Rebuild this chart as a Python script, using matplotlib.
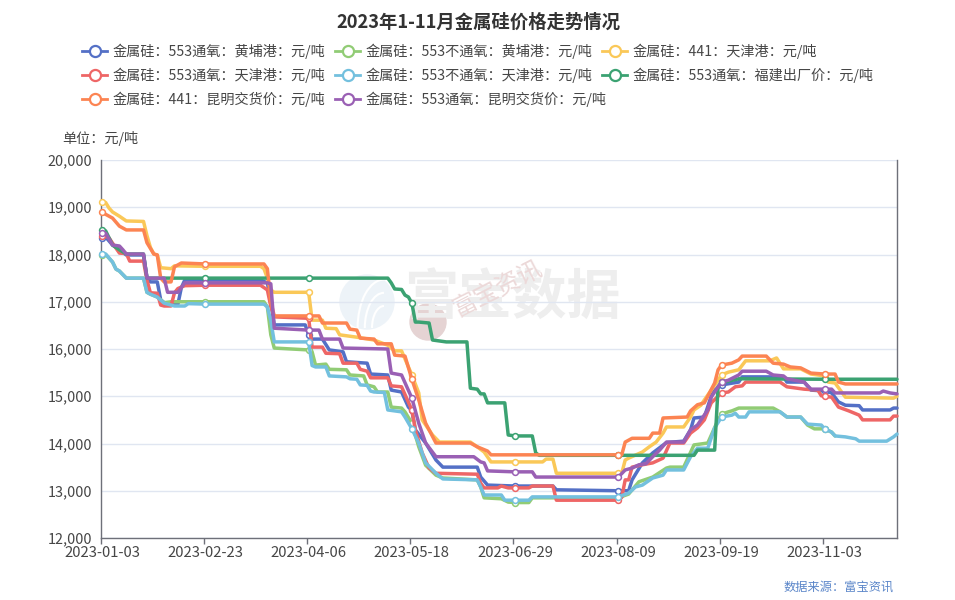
import matplotlib
matplotlib.use('Agg')
import matplotlib.pyplot as plt
from matplotlib.lines import Line2D
from matplotlib.patches import Circle, Arc
from matplotlib.transforms import Affine2D

plt.rcParams['font.family'] = ['Noto Sans CJK SC', 'DejaVu Sans']

# x values are trading day numbers counted from 2023-01-03, prices in yuan/ton
tick_dates = ['2023-01-03', '2023-02-23', '2023-04-06', '2023-05-18',
              '2023-06-29', '2023-08-09', '2023-09-19', '2023-11-03']
tick_days = [0, 30, 60, 90, 120, 150, 180, 210]
y_ticks = [12000, 13000, 14000, 15000, 16000, 17000, 18000, 19000, 20000]

names = ['金属硅：553通氧：黄埔港：元/吨', '金属硅：553不通氧：黄埔港：元/吨', '金属硅：441：天津港：元/吨',
         '金属硅：553通氧：天津港：元/吨', '金属硅：553不通氧：天津港：元/吨', '金属硅：553通氧：福建出厂价：元/吨',
         '金属硅：441：昆明交货价：元/吨', '金属硅：553通氧：昆明交货价：元/吨']
colors = ['#5470c6', '#91cc75', '#fac858', '#ee6666', '#73c0de', '#3ba272', '#fc8452', '#9a60b4']

days_blue = [0, 1, 3, 5, 7, 12, 13, 14, 16, 17, 18, 19, 22, 23, 24, 30, 46, 48, 49, 50, 59, 60, 61, 64, 66, 70, 71, 77, 78, 83, 84, 87, 89, 90, 91, 94, 97, 99, 109, 110, 112, 120, 131, 132, 150, 153, 154, 157, 160, 164, 169, 171, 172, 175, 177, 178, 180, 185, 186, 198, 199, 204, 206, 210, 212, 214, 216, 220, 221, 229, 230, 231]
price_blue = [18350, 18370, 18200, 18100, 17990, 17990, 17520, 17420, 17420, 17040, 16980, 16970, 16950, 17300, 17460, 17460, 17460, 17400, 17000, 16510, 16510, 16300, 16210, 16210, 15980, 15940, 15730, 15700, 15470, 15450, 15130, 15090, 14770, 14700, 14290, 14010, 13650, 13500, 13500, 13290, 13120, 13100, 13100, 13020, 13000, 13000, 13230, 13590, 13800, 14020, 14050, 14290, 14540, 14560, 15000, 15130, 15240, 15300, 15410, 15410, 15300, 15300, 15130, 15110, 15070, 14880, 14810, 14800, 14710, 14710, 14750, 14750]

days_lgreen = [0, 1, 3, 4, 5, 7, 12, 13, 14, 16, 18, 20, 30, 47, 48, 49, 50, 60, 61, 62, 65, 66, 71, 72, 76, 77, 79, 80, 83, 84, 87, 88, 90, 92, 94, 97, 99, 109, 110, 111, 116, 118, 120, 124, 125, 150, 153, 156, 160, 164, 165, 169, 172, 176, 179, 180, 182, 183, 185, 195, 197, 199, 203, 205, 207, 210, 212, 213]
price_lgreen = [18000, 18000, 17840, 17690, 17650, 17500, 17500, 17200, 17160, 17100, 16980, 17000, 17000, 17000, 16890, 16300, 16020, 15980, 15940, 15660, 15680, 15570, 15560, 15450, 15430, 15240, 15200, 15090, 15090, 14770, 14750, 14670, 14430, 13930, 13540, 13330, 13270, 13230, 13080, 12850, 12830, 12760, 12750, 12750, 12850, 12850, 12930, 13190, 13290, 13480, 13500, 13500, 13970, 14010, 14500, 14620, 14670, 14690, 14750, 14750, 14670, 14560, 14560, 14390, 14310, 14310, 14240, 14160]

days_yellow = [0, 1, 2, 3, 5, 7, 12, 13, 14, 15, 16, 17, 20, 21, 30, 46, 47, 48, 49, 50, 60, 61, 64, 65, 68, 69, 74, 79, 83, 85, 87, 90, 92, 93, 96, 98, 107, 109, 111, 113, 120, 128, 129, 131, 132, 150, 151, 152, 153, 157, 159, 161, 163, 164, 169, 171, 172, 174, 175, 177, 180, 182, 185, 187, 194, 196, 198, 203, 206, 210, 211, 213, 216, 230, 231]
price_yellow = [19110, 19100, 18980, 18900, 18810, 18710, 18700, 18400, 18150, 18010, 17990, 17720, 17700, 17760, 17750, 17750, 17700, 17500, 17250, 17200, 17200, 16610, 16610, 16440, 16430, 16300, 16250, 16190, 16080, 15960, 15960, 15450, 15070, 14500, 14180, 14030, 14030, 13930, 13820, 13610, 13610, 13610, 13670, 13670, 13370, 13370, 13370, 13650, 13690, 13820, 13930, 14030, 14220, 14350, 14350, 14560, 14710, 14810, 14920, 15130, 15450, 15510, 15560, 15750, 15750, 15810, 15580, 15580, 15470, 15430, 15300, 15280, 14980, 14960, 15000]

days_red = [0, 1, 2, 3, 5, 7, 8, 12, 13, 14, 16, 17, 18, 20, 21, 22, 24, 30, 46, 48, 49, 50, 60, 61, 64, 65, 69, 70, 74, 75, 77, 78, 83, 84, 87, 90, 91, 93, 95, 97, 109, 110, 111, 115, 116, 118, 120, 124, 125, 131, 132, 150, 151, 152, 153, 154, 157, 160, 163, 165, 169, 171, 173, 175, 177, 180, 182, 184, 186, 187, 197, 199, 204, 208, 209, 210, 212, 214, 217, 220, 221, 229, 230, 231]
price_red = [18390, 18390, 18350, 18240, 18030, 18020, 17860, 17860, 17460, 17190, 17180, 16930, 16910, 16910, 17190, 17280, 17340, 17350, 17350, 17250, 16900, 16680, 16650, 16040, 16040, 15910, 15900, 15700, 15700, 15570, 15530, 15390, 15390, 15220, 15200, 14710, 14290, 13800, 13480, 13370, 13350, 13160, 13060, 13060, 13100, 13060, 13060, 13060, 13100, 13100, 12800, 12800, 12860, 13230, 13230, 13500, 13550, 13590, 13690, 14010, 14010, 14220, 14330, 14500, 14860, 15070, 15090, 15200, 15220, 15300, 15300, 15200, 15150, 15130, 15010, 15000, 14980, 14770, 14690, 14600, 14500, 14500, 14580, 14580]

days_lblue = [0, 1, 3, 4, 5, 7, 12, 13, 14, 16, 18, 21, 24, 25, 30, 47, 48, 49, 50, 60, 61, 62, 65, 66, 71, 72, 74, 75, 77, 78, 79, 82, 83, 87, 88, 90, 92, 94, 97, 99, 109, 110, 111, 116, 117, 120, 124, 125, 150, 153, 155, 157, 160, 163, 164, 169, 171, 173, 176, 178, 180, 183, 184, 185, 187, 188, 197, 199, 203, 205, 209, 210, 212, 213, 216, 219, 220, 228, 230, 231]
price_lblue = [18010, 18010, 17840, 17690, 17650, 17500, 17500, 17200, 17160, 17100, 16970, 16910, 16910, 16960, 16950, 16950, 16890, 16600, 16150, 16150, 15650, 15620, 15620, 15430, 15410, 15370, 15360, 15240, 15230, 15110, 15090, 15080, 14710, 14670, 14560, 14310, 14010, 13590, 13370, 13250, 13230, 13080, 12910, 12910, 12800, 12800, 12800, 12870, 12870, 12950, 13080, 13120, 13270, 13330, 13440, 13440, 13720, 13900, 13900, 14330, 14560, 14600, 14640, 14560, 14560, 14670, 14670, 14560, 14560, 14410, 14390, 14310, 14240, 14160, 14140, 14100, 14050, 14050, 14140, 14200]

days_dgreen = [0, 1, 3, 5, 7, 12, 13, 30, 60, 83, 84, 85, 87, 88, 89, 90, 91, 92, 95, 96, 100, 106, 107, 109, 110, 111, 112, 117, 118, 120, 125, 126, 127, 150, 172, 173, 178, 179, 180, 182, 185, 210, 231]
price_dgreen = [18520, 18500, 18200, 18100, 18010, 18010, 17500, 17500, 17500, 17500, 17400, 17270, 17260, 17140, 17100, 16970, 16570, 16570, 16550, 16190, 16150, 16150, 15170, 15150, 15050, 15050, 14860, 14860, 14180, 14160, 14160, 13800, 13750, 13750, 13750, 13860, 13860, 15200, 15300, 15320, 15370, 15360, 15360]

days_orange = [0, 1, 2, 3, 5, 6, 7, 12, 13, 15, 16, 17, 18, 20, 21, 22, 23, 30, 47, 48, 49, 50, 60, 63, 64, 71, 72, 74, 75, 79, 80, 84, 85, 88, 90, 92, 94, 97, 107, 109, 112, 113, 150, 151, 152, 154, 159, 160, 162, 163, 170, 171, 173, 175, 178, 179, 180, 183, 185, 186, 193, 195, 198, 200, 203, 206, 210, 213, 214, 216, 231]
price_orange = [18900, 18850, 18810, 18770, 18600, 18560, 18520, 18520, 18250, 18010, 17990, 17500, 17420, 17420, 17740, 17780, 17820, 17800, 17800, 17700, 17000, 16700, 16700, 16700, 16550, 16550, 16420, 16400, 16230, 16210, 16110, 16110, 15870, 15850, 15360, 14920, 14430, 14010, 14010, 13930, 13840, 13760, 13760, 13760, 14030, 14110, 14110, 14220, 14220, 14540, 14560, 14690, 14820, 14860, 15280, 15560, 15660, 15700, 15770, 15850, 15850, 15700, 15680, 15620, 15600, 15490, 15470, 15470, 15300, 15260, 15260]

days_purple = [0, 1, 3, 5, 6, 7, 12, 13, 18, 19, 22, 24, 30, 48, 49, 50, 60, 63, 64, 69, 70, 83, 84, 87, 90, 92, 94, 97, 108, 110, 111, 112, 120, 125, 126, 150, 152, 154, 156, 158, 160, 162, 164, 169, 171, 173, 176, 177, 179, 180, 182, 185, 186, 193, 195, 198, 199, 204, 206, 210, 212, 213, 226, 227, 229, 231]
price_purple = [18450, 18450, 18200, 18180, 18100, 18010, 18010, 17500, 17500, 17200, 17200, 17400, 17400, 17400, 17380, 16440, 16400, 16400, 16210, 16210, 16020, 16000, 15490, 15450, 14960, 14430, 14010, 13720, 13720, 13610, 13590, 13420, 13400, 13400, 13290, 13290, 13440, 13480, 13550, 13570, 13720, 13860, 14030, 14030, 14290, 14390, 14710, 14980, 15200, 15300, 15340, 15450, 15530, 15530, 15450, 15430, 15370, 15300, 15150, 15150, 15150, 15070, 15070, 15110, 15070, 15050]

all_days = [days_blue, days_lgreen, days_yellow, days_red, days_lblue, days_dgreen, days_orange, days_purple]
all_prices = [price_blue, price_lgreen, price_yellow, price_red, price_lblue, price_dgreen, price_orange, price_purple]

W, H = 955, 600
axis_color = '#6e7079'
text_color = '#464646'


def fx(x):
    return x / W


def fy(y):
    return 1 - y / H


fig = plt.figure(figsize=(W / 100, H / 100), dpi=100)
ax = fig.add_axes([fx(100.5), fy(538), 796.5 / W, 378 / H])
ax.set_facecolor('none')

# watermark sits behind the axes, placed in picture pixels
tr = Affine2D().scale(1, -1).translate(0, H)
fig.add_artist(Circle((367, 302), 27, color='#edf3f8', transform=tr, zorder=-5))
for r in [10, 16, 22]:
    fig.add_artist(Arc((384, 328), r * 2.4, r * 4.4, theta1=180, theta2=270, color='white', lw=1.5, transform=tr, zorder=-4))
fig.add_artist(Circle((428, 322), 18, color='#e5d3d3', transform=tr, zorder=-5))
fig.text(fx(512), fy(298), '富宝数据', fontsize=39, fontweight='bold', color='#eeeeee', ha='center', va='center', zorder=-3)
fig.text(fx(497), fy(289), '富宝资讯', fontsize=17.5, color='#ecd9d9', ha='center', va='center', rotation=27, zorder=-2)

for i in range(8):
    marks = [n for n, d in enumerate(all_days[i]) if d in tick_days]
    ax.plot(all_days[i], all_prices[i], color=colors[i], lw=2.5, solid_joinstyle='round', solid_capstyle='round',
            marker='o', markevery=marks, ms=4.2, mfc='white', mec=colors[i], mew=1.1, zorder=3 + i, clip_on=False)

ax.set_xlim(-0.5, 231)
ax.set_ylim(12000, 20000)
ax.set_yticks(y_ticks)
ax.set_yticklabels([f'{v:,}' for v in y_ticks], fontsize=10.4, color=text_color)
ax.grid(axis='y', color='#e0e6f1', lw=1)
ax.set_axisbelow(True)
ax.tick_params(axis='y', length=0, pad=6)

# ticks fall on the band edges, labels in the band centres
ax.set_xticks([d - 0.5 for d in tick_days])
ax.set_xticklabels([])
ax.set_xticks(tick_days, minor=True)
ax.set_xticklabels(tick_dates, minor=True, fontsize=10.7, color=text_color)
ax.tick_params(axis='x', which='major', length=4, width=1, color=axis_color)
ax.tick_params(axis='x', which='minor', length=0, pad=5.5)

ax.spines['top'].set_visible(False)
for side in ['left', 'right', 'bottom']:
    ax.spines[side].set_color(axis_color)
    ax.spines[side].set_linewidth(1)

fig.text(fx(478), fy(22), '2023年1-11月金属硅价格走势情况', fontsize=13.2, fontweight='bold', color='#333333', ha='center', va='center')
fig.text(fx(100.5), fy(138), '单位：元/吨', fontsize=10.2, color=text_color, ha='center', va='center')
fig.text(fx(893.5), fy(587), '数据来源：富宝资讯', fontsize=8.8, color='#5b86c9', ha='right', va='center')

# legend rows flow left to right like the original
legend_x = [82, 335, 602, 82, 335, 602, 82, 335]
legend_y = [51, 51, 51, 75, 75, 75, 99, 99]
for i in range(8):
    x0, y0 = legend_x[i], legend_y[i]
    fig.add_artist(Line2D([fx(x0), fx(x0 + 25)], [fy(y0), fy(y0)], color=colors[i], lw=2))
    fig.add_artist(Line2D([fx(x0 + 12.5)], [fy(y0)], marker='o', ms=8, mfc='white', mec=colors[i], mew=1.6))
    fig.text(fx(x0 + 31), fy(y0), names[i], fontsize=10.2, color=text_color, ha='left', va='center')

fig.savefig('out.png', dpi=100)
